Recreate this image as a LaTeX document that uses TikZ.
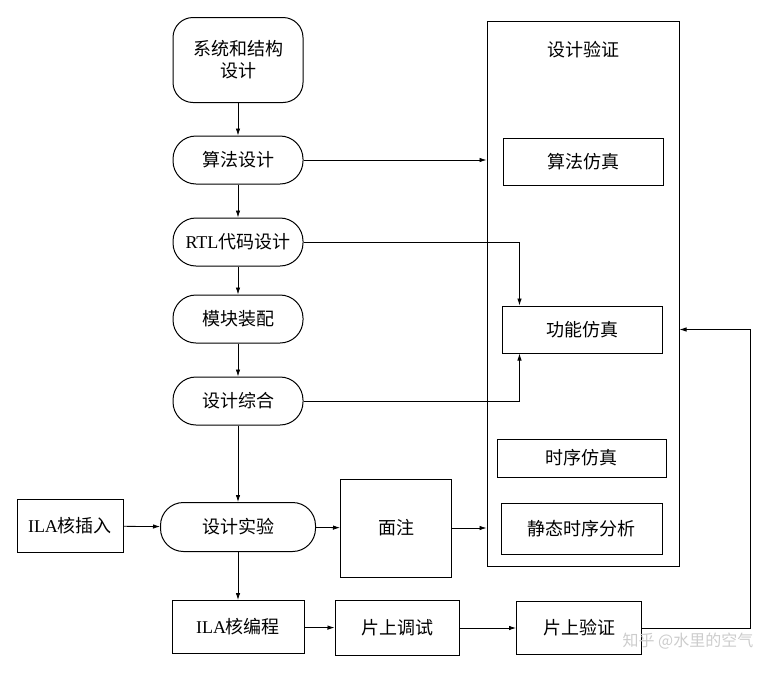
\documentclass[tikz,border=0pt]{standalone}
\usepackage{fontspec}
\setmainfont{Liberation Serif}
\newfontfamily\cjk{Noto Sans CJK SC}
\usetikzlibrary{arrows.meta}

\begin{document}
\begin{tikzpicture}[x=1pt,y=-1pt,
  every node/.style={font=\fontsize{18}{22}\selectfont\cjk},
  flowbox/.style={draw,line width=1pt,rounded corners=23pt,minimum width=130pt,minimum height=48pt,inner sep=2pt},
  plainbox/.style={draw,line width=1pt,minimum height=53pt,inner sep=2pt},
  simbox/.style={draw,line width=1pt,minimum width=160pt,minimum height=47pt,inner sep=2pt},
  link/.style={line width=0.8pt,-{Latex[length=7pt,width=4.5pt]}}]

\useasboundingbox (0,0) rectangle (776,675);

% Design flow (left column)
\node[flowbox,rounded corners=20pt,minimum height=85pt,align=center] (sys) at (238,60) {系统和结构\\设计};
\node[flowbox] (alg) at (238,160) {算法设计};
\node[flowbox] (rtl) at (238,242) {{\rmfamily RTL}代码设计};
\node[flowbox] (asm) at (238,319) {模块装配};
\node[flowbox] (syn) at (238,401) {设计综合};
\node[flowbox,minimum width=155pt,minimum height=49pt] (exp) at (238,527) {设计实验};

% ILA and on-chip boxes
\node[plainbox,minimum width=106pt] (ins) at (70,526) {{\rmfamily ILA}核插入};
\node[plainbox,minimum width=132pt] (prog) at (238,627) {{\rmfamily ILA}核编程};
\node[plainbox,minimum width=111pt,minimum height=98pt] (ann) at (396,528) {面注};
\node[plainbox,minimum width=124pt,minimum height=55pt] (dbg) at (397,628) {片上调试};
\node[plainbox,minimum width=125pt] (ver) at (579,628) {片上验证};

% Verification block
\node[draw,line width=1pt,minimum width=192pt,minimum height=545pt] (vbox) at (583,293.5) {};
\node (vtitle) at (583,50) {设计验证};
\node[simbox] (algsim) at (583,162) {算法仿真};
\node[simbox] (funsim) at (582,329.5) {功能仿真};
\node[simbox,minimum width=169pt,minimum height=38pt] (timsim) at (581.5,458) {时序仿真};
\node[simbox,minimum width=161pt,minimum height=51pt] (sta) at (581.5,528.5) {静态时序分析};

% Vertical flow
\draw[link] (sys) -- (alg);
\draw[link] (alg) -- (rtl);
\draw[link] (rtl) -- (asm);
\draw[link] (asm) -- (syn);
\draw[link] (syn) -- (exp);
\draw[link] (exp) -- (prog);

% Connections to verification
\draw[link] (alg) -- (alg -| vbox.west);
\draw[link] (rtl.east) -| ([xshift=18pt]funsim.north west);
\draw[link] (syn.east) -| ([xshift=18pt]funsim.south west);
\draw[link] (ins) -- (exp);
\draw[link] (exp) -- (ann);
\draw[link] (ann) -- (ann -| vbox.west);
\draw[link] (prog) -- (dbg);
\draw[link] (dbg) -- (ver);
\draw[link] (ver.east) -- ++(108,0) |- (vbox.east |- funsim);

% Watermark
\node[text=gray!40,font=\fontsize{16}{20}\selectfont\cjk,anchor=west] (mark) at (619,641) {知乎 @水里的空气};

\end{tikzpicture}
\end{document}
